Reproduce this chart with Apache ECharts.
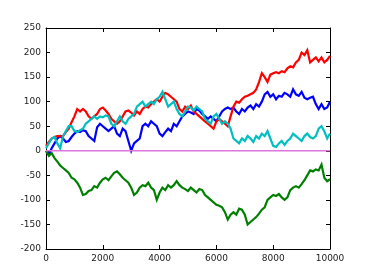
<!DOCTYPE html>
<html>
<head>
<meta charset="utf-8">
<script src="https://cdn.jsdelivr.net/npm/echarts@6/dist/echarts.min.js"></script>
<style>html,body{margin:0;padding:0;background:#fff;}#c{width:367px;height:277px;}</style>
</head>
<body>
<div id="c"></div>
<script>
var xs = [];
for (var i = 0; i <= 100; i++) xs.push(i * 100);
var xTicks = [0, 2000, 4000, 6000, 8000, 10000];
var yTicks = [-200, -150, -100, -50, 0, 50, 100, 150, 200, 250];

var red = [10,18,25,28,30,30,30,38,45,58,70,85,80,85,80,70,65,70,75,85,88,82,75,65,60,55,60,70,80,82,78,72,80,75,85,90,88,95,100,105,100,110,118,115,110,105,100,85,80,90,85,92,80,75,70,65,60,55,50,45,60,65,60,55,50,70,90,100,98,105,110,112,115,118,125,140,158,150,140,155,158,160,158,162,160,168,172,170,180,185,200,195,205,180,185,190,182,190,180,185,193];
var blue = [0,-8,5,15,25,30,25,18,20,28,35,40,38,42,40,30,25,20,48,55,50,45,40,45,50,35,30,45,40,20,0,15,20,25,50,55,50,60,55,50,35,30,38,45,40,55,50,60,70,75,80,78,75,85,82,75,70,65,70,65,60,70,80,85,88,85,88,80,75,85,80,88,92,85,95,90,100,115,120,110,115,105,112,110,118,115,110,125,115,112,120,108,105,108,110,95,85,95,85,88,100];
var cyan = [5,15,25,28,15,5,30,40,50,50,40,38,42,45,55,60,65,70,65,70,68,72,70,55,50,60,70,60,55,65,70,75,90,95,100,90,95,100,95,105,110,120,105,90,95,100,85,75,70,80,90,88,82,90,85,80,65,60,55,70,75,65,55,60,55,45,25,20,15,25,20,30,25,18,30,25,35,30,40,25,10,8,15,20,12,20,25,35,30,25,20,30,35,28,25,30,45,50,40,25,35];
var green = [0,-10,-5,-15,-22,-30,-35,-40,-45,-55,-58,-65,-75,-90,-88,-82,-80,-72,-75,-65,-58,-55,-60,-52,-45,-42,-48,-55,-60,-65,-75,-90,-85,-75,-70,-72,-65,-75,-80,-100,-85,-75,-80,-70,-75,-70,-62,-70,-75,-78,-82,-75,-80,-85,-78,-80,-90,-95,-100,-105,-110,-112,-115,-125,-140,-130,-125,-130,-118,-120,-130,-150,-145,-140,-135,-128,-120,-115,-100,-95,-90,-92,-88,-95,-100,-95,-80,-75,-72,-75,-68,-60,-50,-40,-42,-38,-40,-28,-55,-62,-58];
var magentaX = [0, 10000];
var magenta = [0, 0];

function pairs(x, y) { return x.map(function (v, i) { return [v, y[i]]; }); }

var chart = echarts.init(document.getElementById('c'), null, {renderer: 'canvas'});
var axisCommon = {
  axisLine: {show: true, onZero: false, lineStyle: {color: '#000', width: 1}},
  axisTick: {show: true, inside: true, length: 4, lineStyle: {color: '#000'}},
  splitLine: {show: false}
};
function mk(pos, min, max, interval, labels) {
  return Object.assign({
    type: 'value', position: pos, min: min, max: max, interval: interval,
    axisLabel: {show: labels, color: '#222', fontSize: 9, fontFamily: 'DejaVu Sans', margin: 5,
      formatter: function (v) { return String(v); }}
  }, axisCommon);
}
function line(name, data, color, width) {
  return {name: name, type: 'line', data: data, showSymbol: false, symbol: 'none',
    lineStyle: {color: color, width: width, join: 'miter'}, itemStyle: {color: color}, animation: false};
}
chart.setOption({
  animation: false,
  grid: {left: 46, right: 37, top: 28, bottom: 28},
  xAxis: [mk('bottom', xTicks[0], xTicks[xTicks.length - 1], 2000, true),
          mk('top', xTicks[0], xTicks[xTicks.length - 1], 2000, false)],
  yAxis: [mk('left', yTicks[0], yTicks[yTicks.length - 1], 50, true),
          mk('right', yTicks[0], yTicks[yTicks.length - 1], 50, false)],
  series: [
    line('b', pairs(xs, blue), '#0000ff', 2.2),
    line('g', pairs(xs, green), '#008000', 2.2),
    line('r', pairs(xs, red), '#ff0000', 2.2),
    line('c', pairs(xs, cyan), '#00bfbf', 2.2),
    line('m', pairs(magentaX, magenta), '#dd77dd', 1.6)
  ]
});
</script>
</body>
</html>
